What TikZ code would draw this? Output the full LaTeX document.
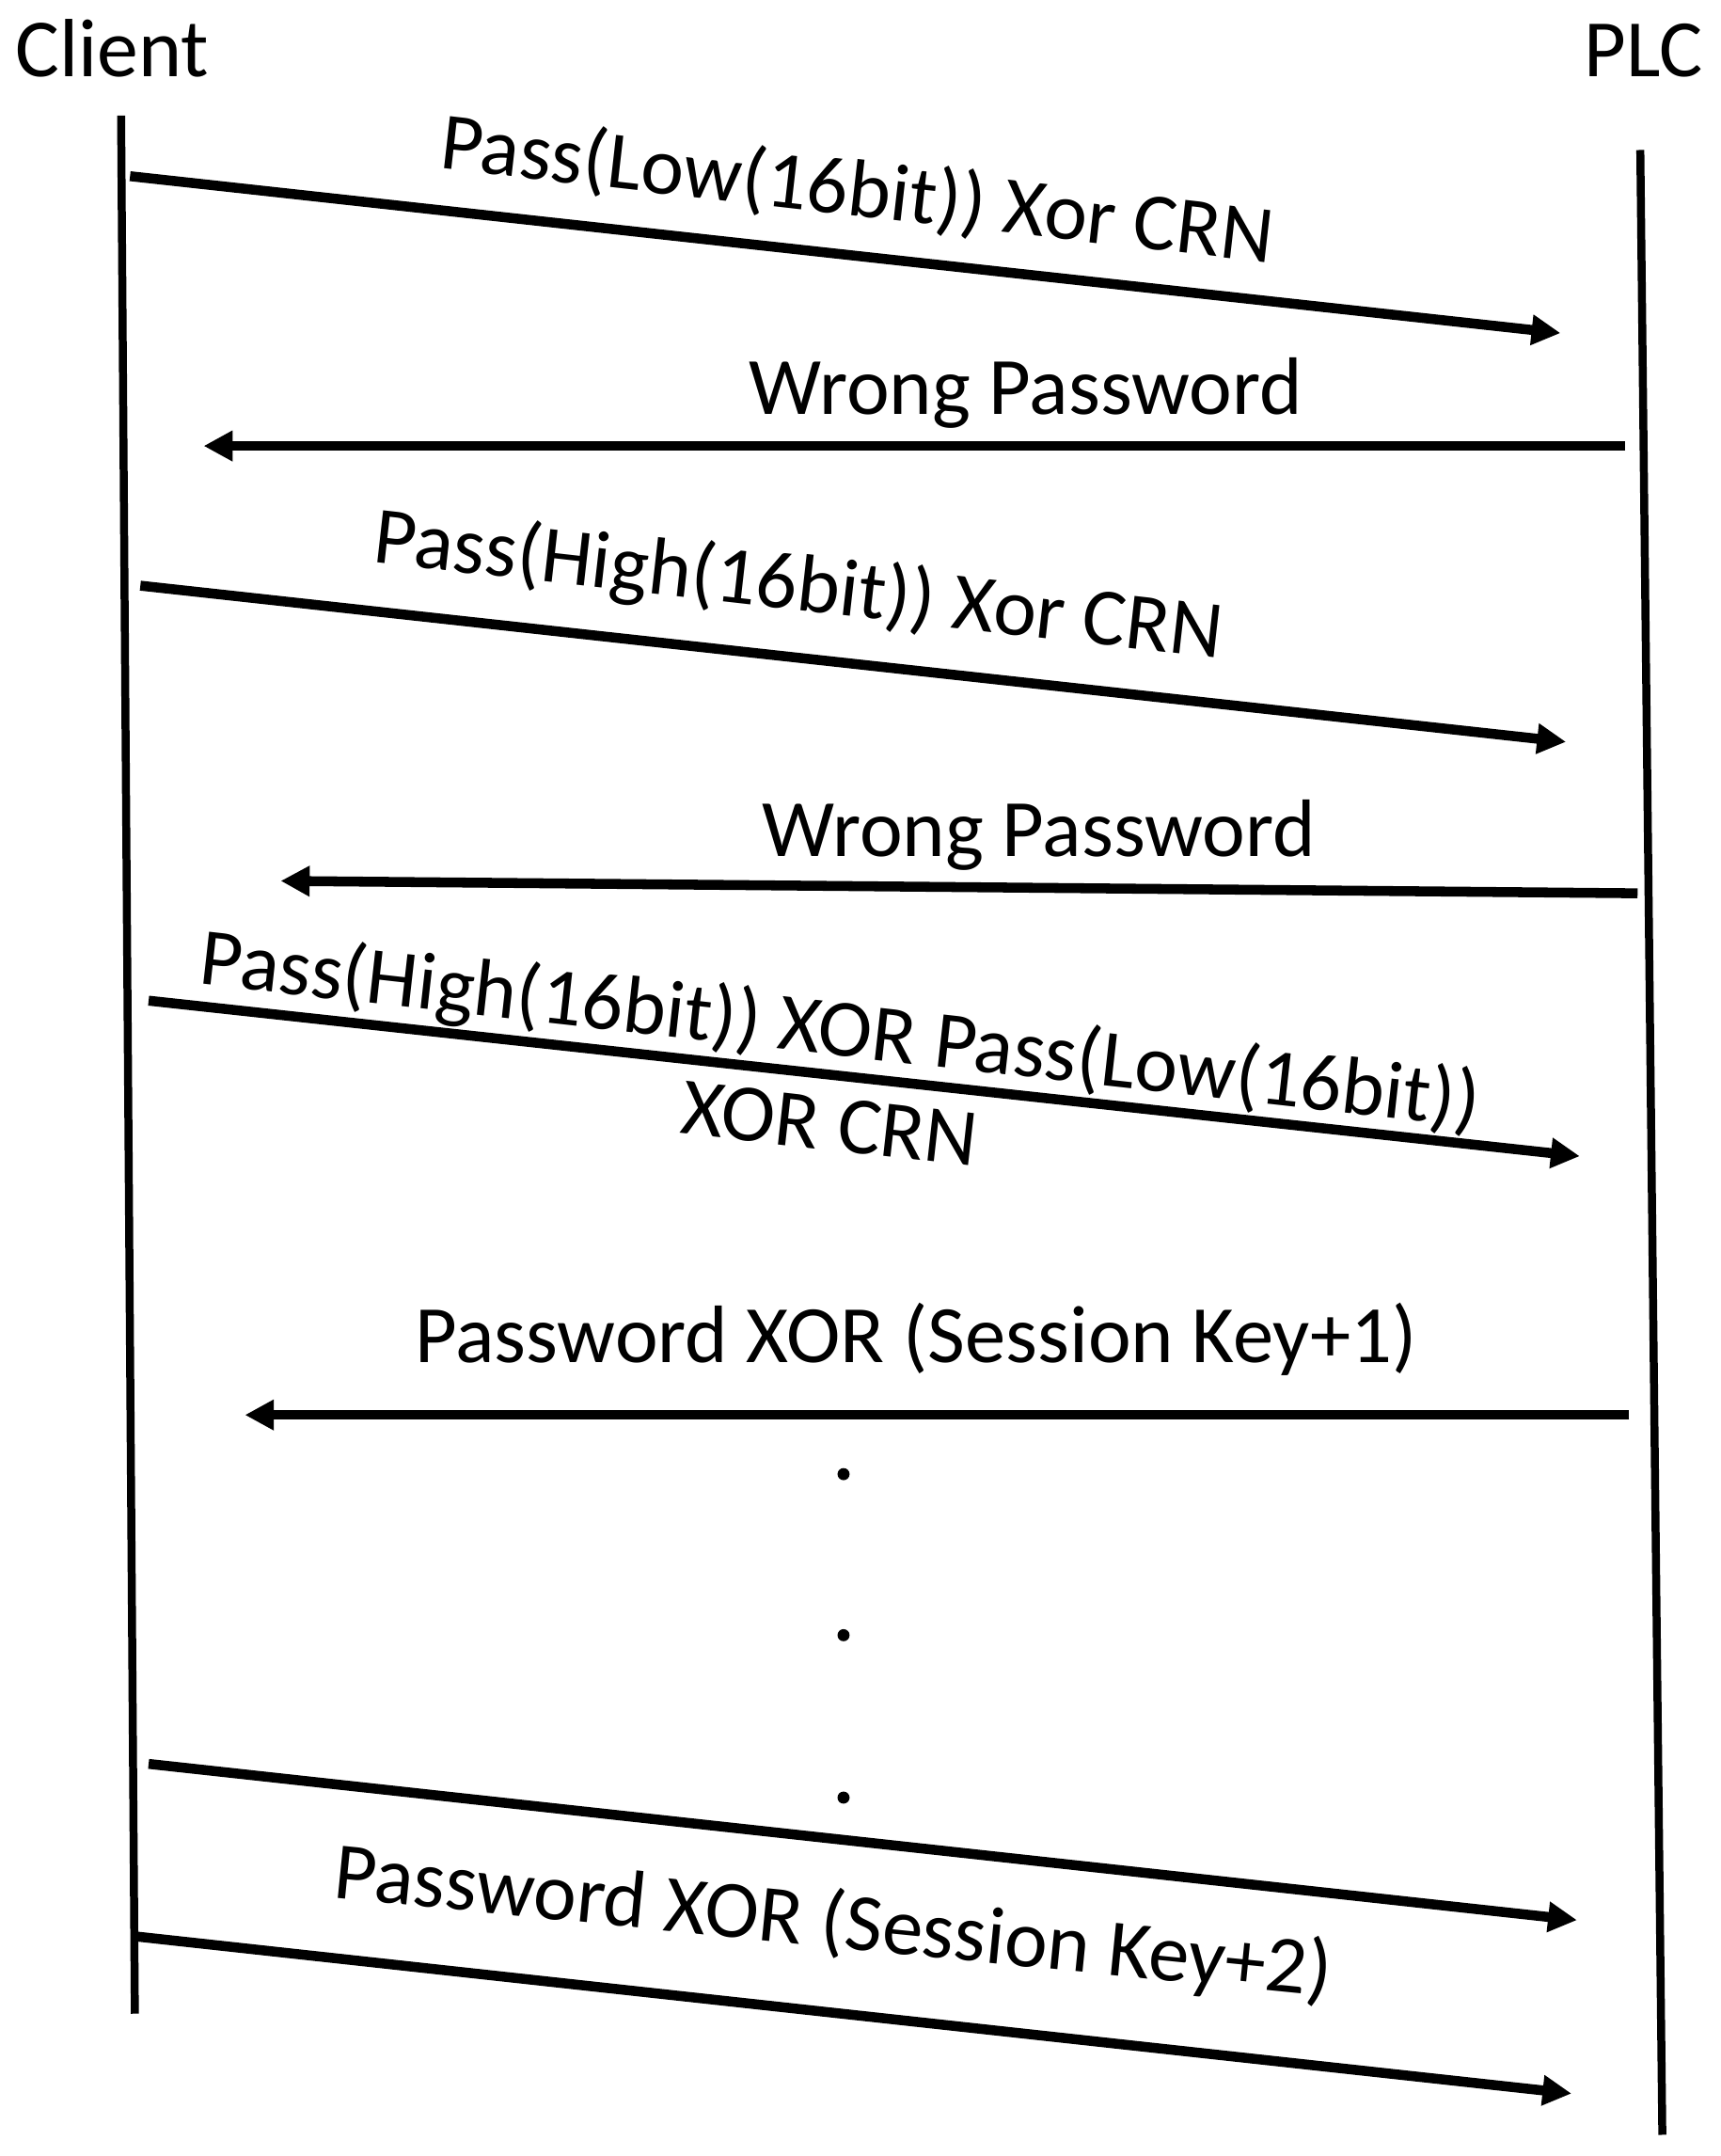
\documentclass[tikz,border=0pt]{standalone}
\usepackage{fontspec}
\setmainfont{Carlito}
\usetikzlibrary{arrows.meta}
\begin{document}
\begin{tikzpicture}[x=0.5pt,y=-0.5pt,
  lifeline/.style={line width=2.9pt},
  msg/.style={line width=3.6pt,-{Triangle[length=10.5pt,width=10.5pt]}},
  lbl/.style={inner sep=0pt,anchor=base,font=\fontsize{29.6}{34.5}\selectfont},
  dotmark/.style={circle,fill,inner sep=0pt,minimum size=4.4pt}]
\useasboundingbox (0,0) rectangle (1250,1566.4);
% headers
\node[lbl,anchor=base west,font=\fontsize{30}{36}\selectfont] (client) at (11,56) {Client};
\node[lbl,anchor=base east] (plc) at (1238,56) {PLC};
% lifelines
\coordinate (ct) at (88,84);
\coordinate (cb) at (98,1463);
\coordinate (pt) at (1192,109);
\coordinate (pb) at (1208,1551);
\draw[lifeline] (ct) -- (cb);
\draw[lifeline] (pt) -- (pb);
% message end points
\coordinate (a1s) at (94.5,128);  \coordinate (a1e) at (1134,242);
\coordinate (a2s) at (1181,324);  \coordinate (a2e) at (148,324);
\coordinate (a3s) at (102,425.5); \coordinate (a3e) at (1138,539);
\coordinate (a4s) at (1190,649);  \coordinate (a4e) at (204,640);
\coordinate (a5s) at (108,727);   \coordinate (a5e) at (1148,840);
\coordinate (a6s) at (1184,1028); \coordinate (a6e) at (178,1028);
\coordinate (a7s) at (108,1281.5);\coordinate (a7e) at (1146,1395);
\coordinate (a8s) at (100,1407);  \coordinate (a8e) at (1142,1521);
% messages
\draw[msg] (a1s) -- (a1e);
\draw[msg] (a2s) -- (a2e);
\draw[msg] (a3s) -- (a3e);
\draw[msg] (a4s) -- (a4e);
\draw[msg] (a5s) -- (a5e);
\draw[msg] (a6s) -- (a6e);
\draw[msg] (a7s) -- (a7e);
\draw[msg] (a8s) -- (a8e);
% labels
\node[lbl,rotate=-6.5] (l1) at (621,156.6) {Pass(Low(16bit)) Xor CRN};
\node[lbl] (l2) at (745.5,301) {Wrong Password};
\node[lbl,rotate=-6.45] (l3) at (578.5,443.3) {Pass(High(16bit)) Xor CRN};
\node[lbl] (l4) at (755,622) {Wrong Password};
\node[lbl,rotate=-6.4,align=center] (l5) at (601,835.5) {Pass(High(16bit)) XOR Pass(Low(16bit))\\XOR CRN};
\node[lbl] (l6) at (665.5,990) {Password XOR (Session Key+1)};
\node[lbl,rotate=-5.7] (l7) at (604,1414.7) {Password XOR (Session Key+2)};
% ellipsis dots
\node[dotmark] (d1) at (613,1071) {};
\node[dotmark] (d2) at (613,1188) {};
\node[dotmark] (d3) at (613,1306) {};
\end{tikzpicture}
\end{document}
